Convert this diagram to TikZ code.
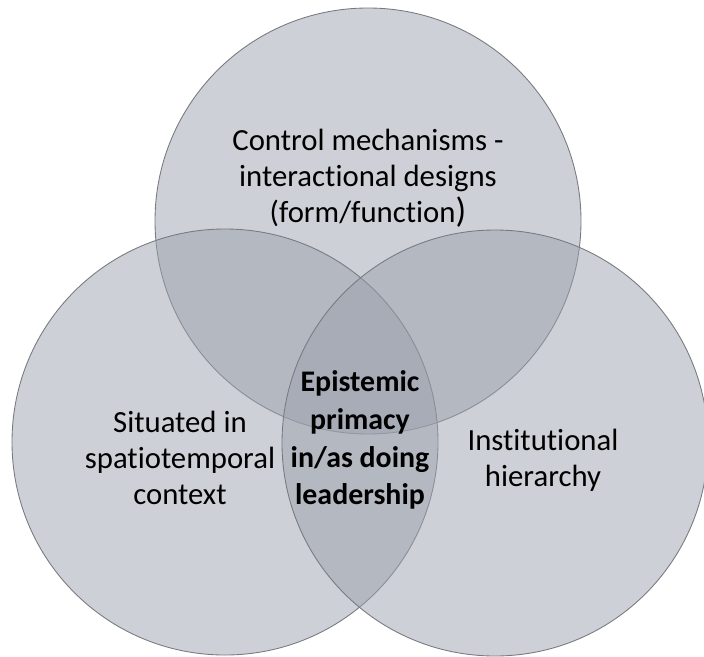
\documentclass[tikz,border=0pt]{standalone}
\usepackage{fontspec}
\setmainfont{Carlito}[Ligatures=NoCommon]
\usepackage{tikz}
\usetikzlibrary{positioning}
\definecolor{vennfill}{RGB}{155,161,173}
\definecolor{vennline}{RGB}{120,122,128}

\begin{document}
\begin{tikzpicture}[
    x=0.2mm, y=-0.2mm,
    venn/.style={circle,draw=vennline,line width=0.5pt,
      fill=vennfill,fill opacity=0.5,minimum size=85.2mm,inner sep=0pt},
    lbl/.style={align=center,text=black,
      font=\fontsize{17.5}{20.5}\selectfont},
    core/.style={lbl,font=\fontsize{17}{21.5}\selectfont\bfseries}
  ]
  \useasboundingbox (0,0) rectangle (704,656);

  % the three sets
  \node[venn] (ctrl) at (368,221) {};
  \node[venn] (situ) at (225,442) {};
  \node[venn] (inst) at (495,443) {};

  % set labels
  \node[lbl] (ctrltxt) at (368,178)
    {Control mechanisms -\\interactional designs\\(form/function{\fontsize{20}{20}\selectfont)}};
  \node[lbl] (situtxt) at (180,458) {Situated in\\spatiotemporal\\context};
  \node[lbl] (insttxt) at (543,460) {Institutional\\hierarchy};

  % shared centre
  \node[core] (epist) at (360,440) {Epistemic\\primacy\\in/as doing\\leadership};
\end{tikzpicture}
\end{document}
